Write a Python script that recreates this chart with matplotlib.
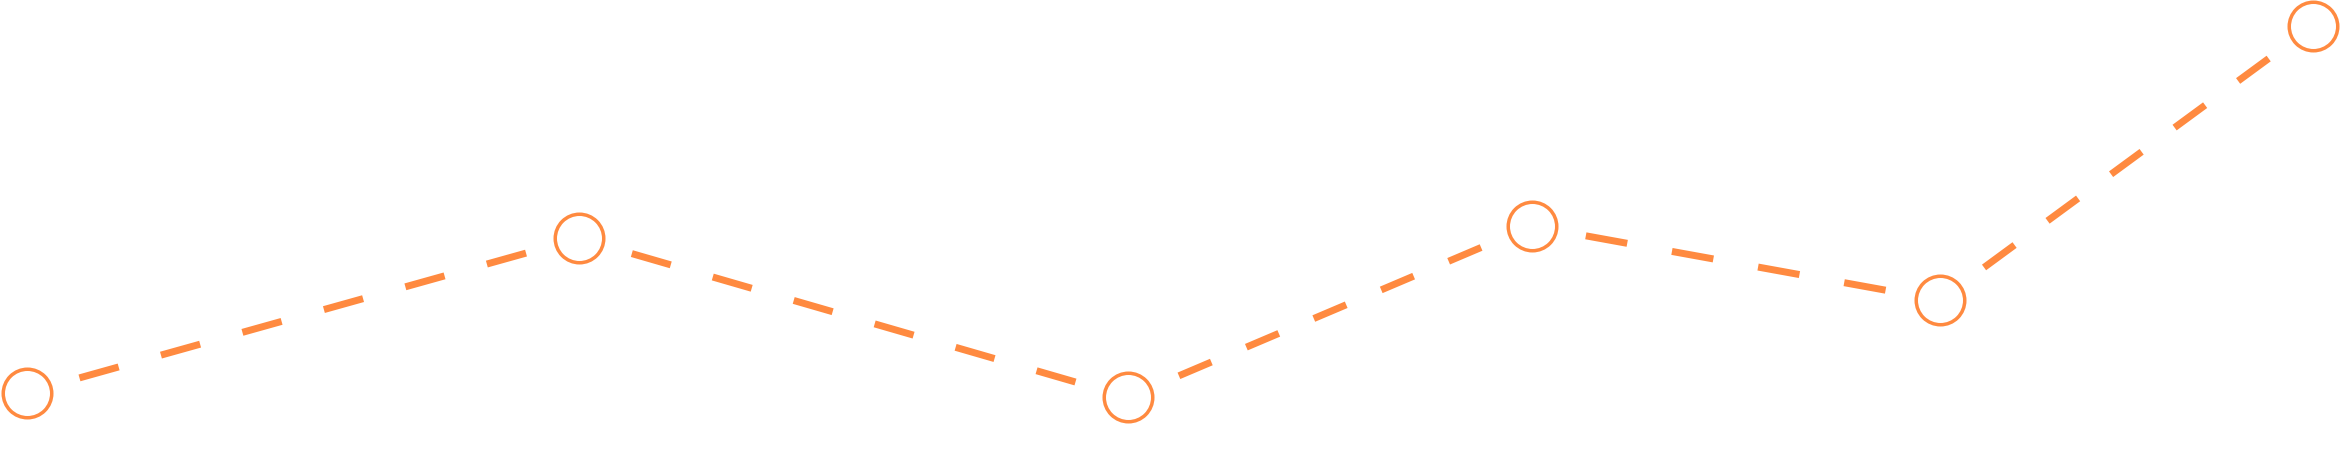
import numpy as np
import matplotlib
matplotlib.use('Agg')
import matplotlib.pyplot as plt

# point positions (x) and heights (y, measured from the bottom)
x_vals = [26.5, 579, 1128.3, 1531.7, 1939.7, 2313]
y_vals = [61.3, 215.7, 56.7, 228, 154, 428]

orange = '#ff8a40'
plt.rcParams['lines.scale_dashes'] = False

fig = plt.figure(figsize=(23.4, 4.54), dpi=100)
ax = fig.add_axes([0, 0, 1, 1])
ax.set_xlim(0, 2340)
ax.set_ylim(0, 454)
ax.axis('off')

px = 72 / fig.dpi          # one pixel in points
end_gap = 55               # blank space kept around each marker (px)
ratio = 1.08               # gap / dash
period = 78                # target dash + gap (px)

# each segment gets its own dash pattern, fitted so it starts and ends with a dash
pts = ax.transData.transform(np.column_stack([x_vals, y_vals]))
inv = ax.transData.inverted()
for p0, p1 in zip(pts[:-1], pts[1:]):
    v = p1 - p0
    length = np.hypot(*v)
    u = v / length
    trim = length - 2 * end_gap
    n = max(1, round((trim + period * ratio / (1 + ratio)) / period))
    dash = trim / (n + (n - 1) * ratio)
    a, b = inv.transform([p0 + u * end_gap, p1 - u * end_gap])
    ax.plot([a[0], b[0]], [a[1], b[1]], color=orange, lw=7 * px,
            linestyle=(0, (dash * px, dash * ratio * px)), zorder=2)

ax.plot(x_vals, y_vals, 'o', ls='none', ms=48.5 * px, mfc='white',
        mec=orange, mew=3.5 * px, zorder=3)

fig.savefig('out.png', dpi=100)
